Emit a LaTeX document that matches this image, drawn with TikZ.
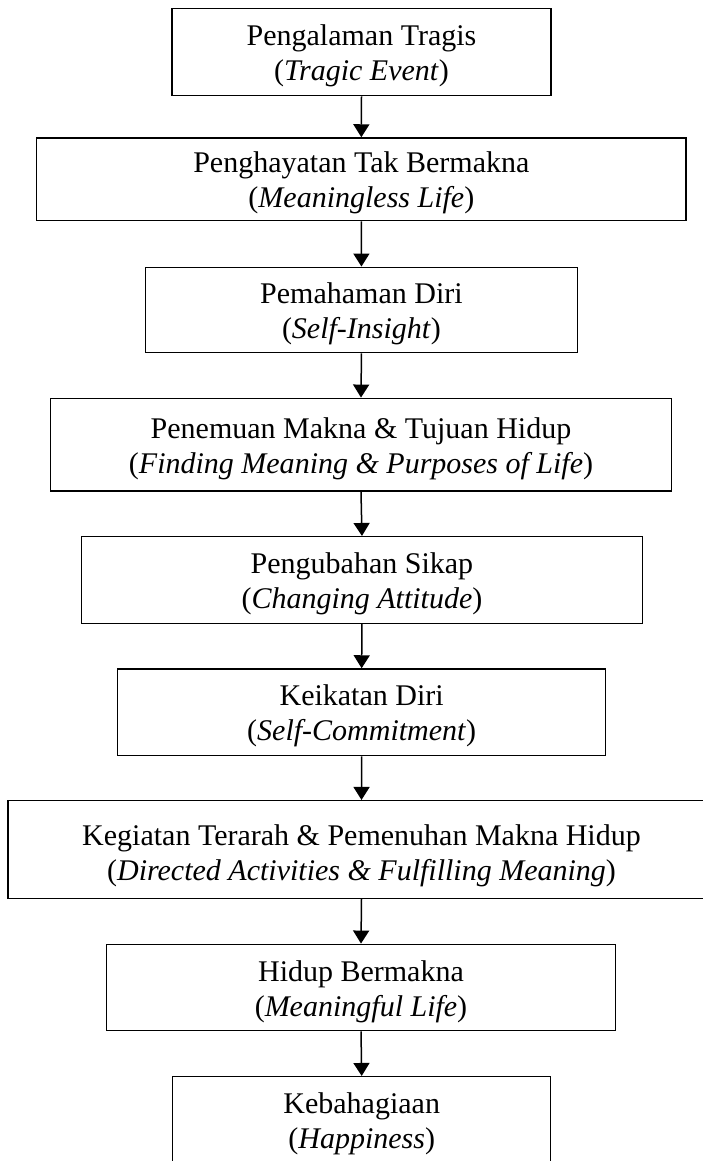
\documentclass[tikz,border=0pt]{standalone}
\usepackage{fontspec}
\setmainfont{Liberation Serif}
\usetikzlibrary{arrows.meta,fit}
\begin{document}
\begin{tikzpicture}[x=0.4pt,y=-0.4pt,
  box/.style={draw,line width=0.6pt,inner sep=0pt,fit={#1}},
  txt/.style={align=center,font=\fontsize{12}{14}\selectfont,inner sep=0pt},
  arr/.style={-{Triangle[width=6.4pt,length=5.2pt]},line width=0.6pt}]
\useasboundingbox (0,0) rectangle (702,1161);
\node[box={(172,8.3)(551,95.7)}] (b1) {};
\node[box={(36.7,138)(686,220.7)}] (b2) {};
\node[box={(145.5,267.3)(577.4,352.7)}] (b3) {};
\node[box={(50.6,398.3)(671.4,491)}] (b4) {};
\node[box={(81.5,536.7)(642.4,623.3)}] (b5) {};
\node[box={(117.7,669)(605.6,755.7)}] (b6) {};
\node[box={(8,800.7)(715,898.3)}] (b7) {};
\node[box={(106.5,944.3)(615.5,1030.7)}] (b8) {};
\node[box={(172.7,1076.7)(550.7,1170)}] (b9) {};
\node[txt,yshift=-1.6pt] (t1) at (b1.center) {\strut Pengalaman Tragis\\\strut(\textit{Tragic Event})};
\node[txt,yshift=-1.6pt] (t2) at (b2.center) {\strut Penghayatan Tak Bermakna\\\strut(\textit{Meaningless Life})};
\node[txt,yshift=-1.6pt] (t3) at (b3.center) {\strut Pemahaman Diri\\\strut(\textit{Self-Insight})};
\node[txt,yshift=-1.6pt] (t4) at (b4.center) {\strut Penemuan Makna \& Tujuan Hidup\\\strut(\textit{Finding Meaning \& Purposes of Life})};
\node[txt,yshift=-1.6pt] (t5) at (b5.center) {\strut Pengubahan Sikap\\\strut(\textit{Changing Attitude})};
\node[txt,yshift=-1.6pt] (t6) at (b6.center) {\strut Keikatan Diri\\\strut(\textit{Self-Commitment})};
\node[txt,yshift=-2.4pt] (t7) at (b7.center) {\strut Kegiatan Terarah \& Pemenuhan Makna Hidup\\\strut(\textit{Directed Activities \& Fulfilling Meaning})};
\node[txt,yshift=-1.6pt] (t8) at (b8.center) {\strut Hidup Bermakna\\\strut(\textit{Meaningful Life})};
\node[txt,anchor=north] (t9) at ([yshift=-5pt]b9.north) {\strut Kebahagiaan\\\strut(\textit{Happiness})};
\draw[arr] (b1.south) -- (b2.north);
\draw[arr] (b2.south) -- (b3.north);
\draw[arr] (b3.south) -- (b4.north);
\draw[arr] (b4.south) -- (b5.north);
\draw[arr] (b5.south) -- (b6.north);
\draw[arr] (b6.south) -- (b7.north);
\draw[arr] (b7.south) -- (b8.north);
\draw[arr] (b8.south) -- (b9.north);
\end{tikzpicture}
\end{document}
